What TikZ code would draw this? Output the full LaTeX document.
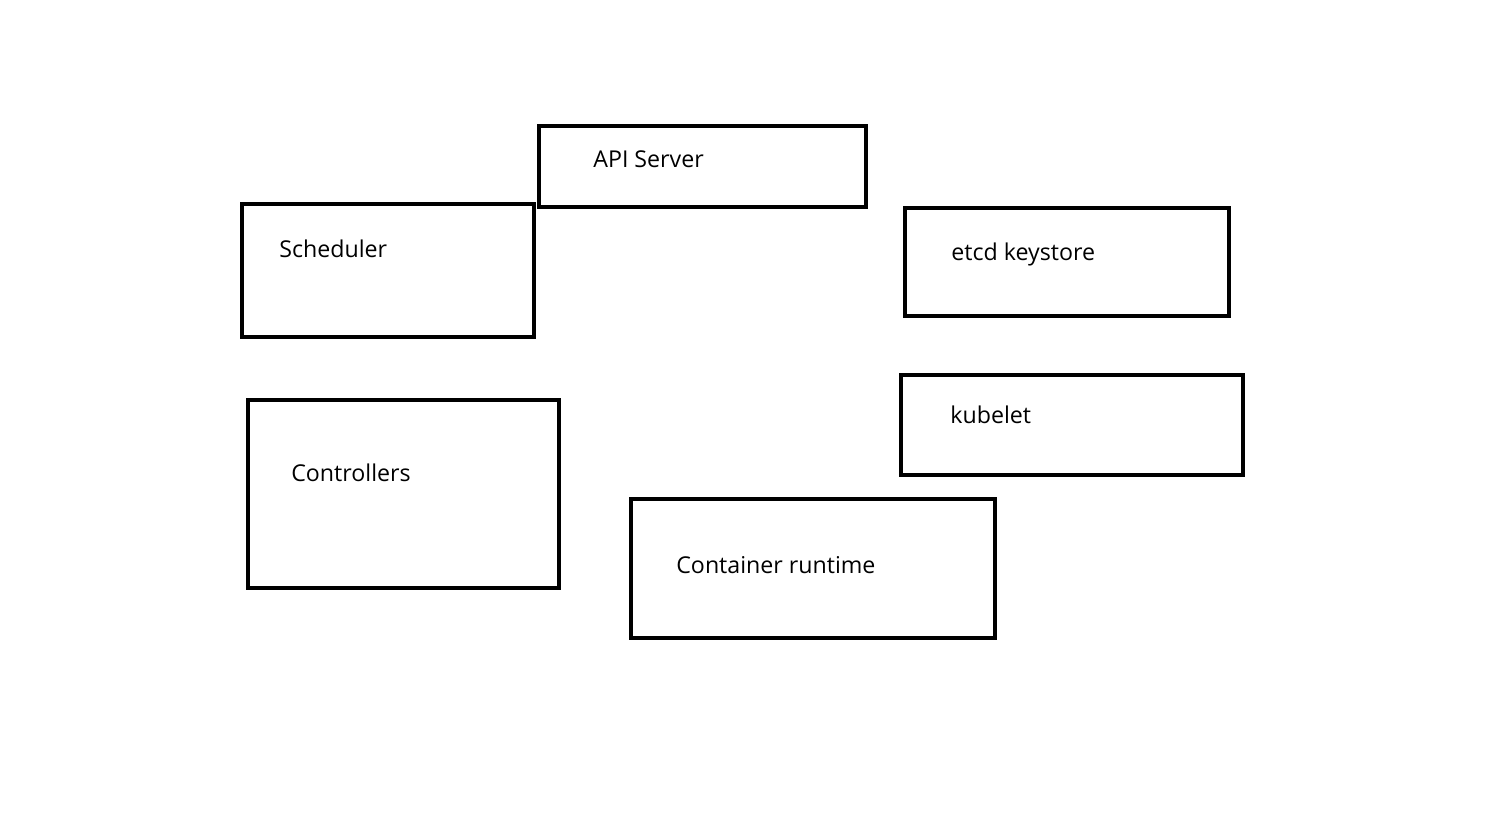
\documentclass[tikz,border=0pt]{standalone}
\usepackage{fontspec}
\setmainfont{Open Sans}
\usepackage{tikz}
\usepackage{xcolor}

\begin{document}
\begin{tikzpicture}[x=0.02cm,y=-0.02cm]
			\useasboundingbox (0,0) rectangle (1503,817);
			\tikzset{box/.style={draw=black,line width=2.8pt}}
			\draw[box] (539,126) rectangle (866,207);
			\draw[box] (242,204) rectangle (534,337);
			\draw[box] (905,208) rectangle (1229,316);
			\draw[box] (901,375) rectangle (1243,475);
			\draw[box] (248,400) rectangle (559,588);
			\draw[box] (631,499) rectangle (995,638);
			\tikzstyle{every node}=[anchor=base west,inner sep=0pt,font=\fontsize{13.2pt}{16pt}\selectfont]
			\node (api) at (593,168) {API Server};
			\node (sched) at (279,258) {Scheduler};
			\node (etcd) at (951,261) {etcd keystore};
			\node (kubelet) at (950,423) {kubelet};
			\node (ctrl) at (291,481) {Controllers};
			\node (runtime) at (676,573) {Container runtime};
		\end{tikzpicture}
\end{document}
